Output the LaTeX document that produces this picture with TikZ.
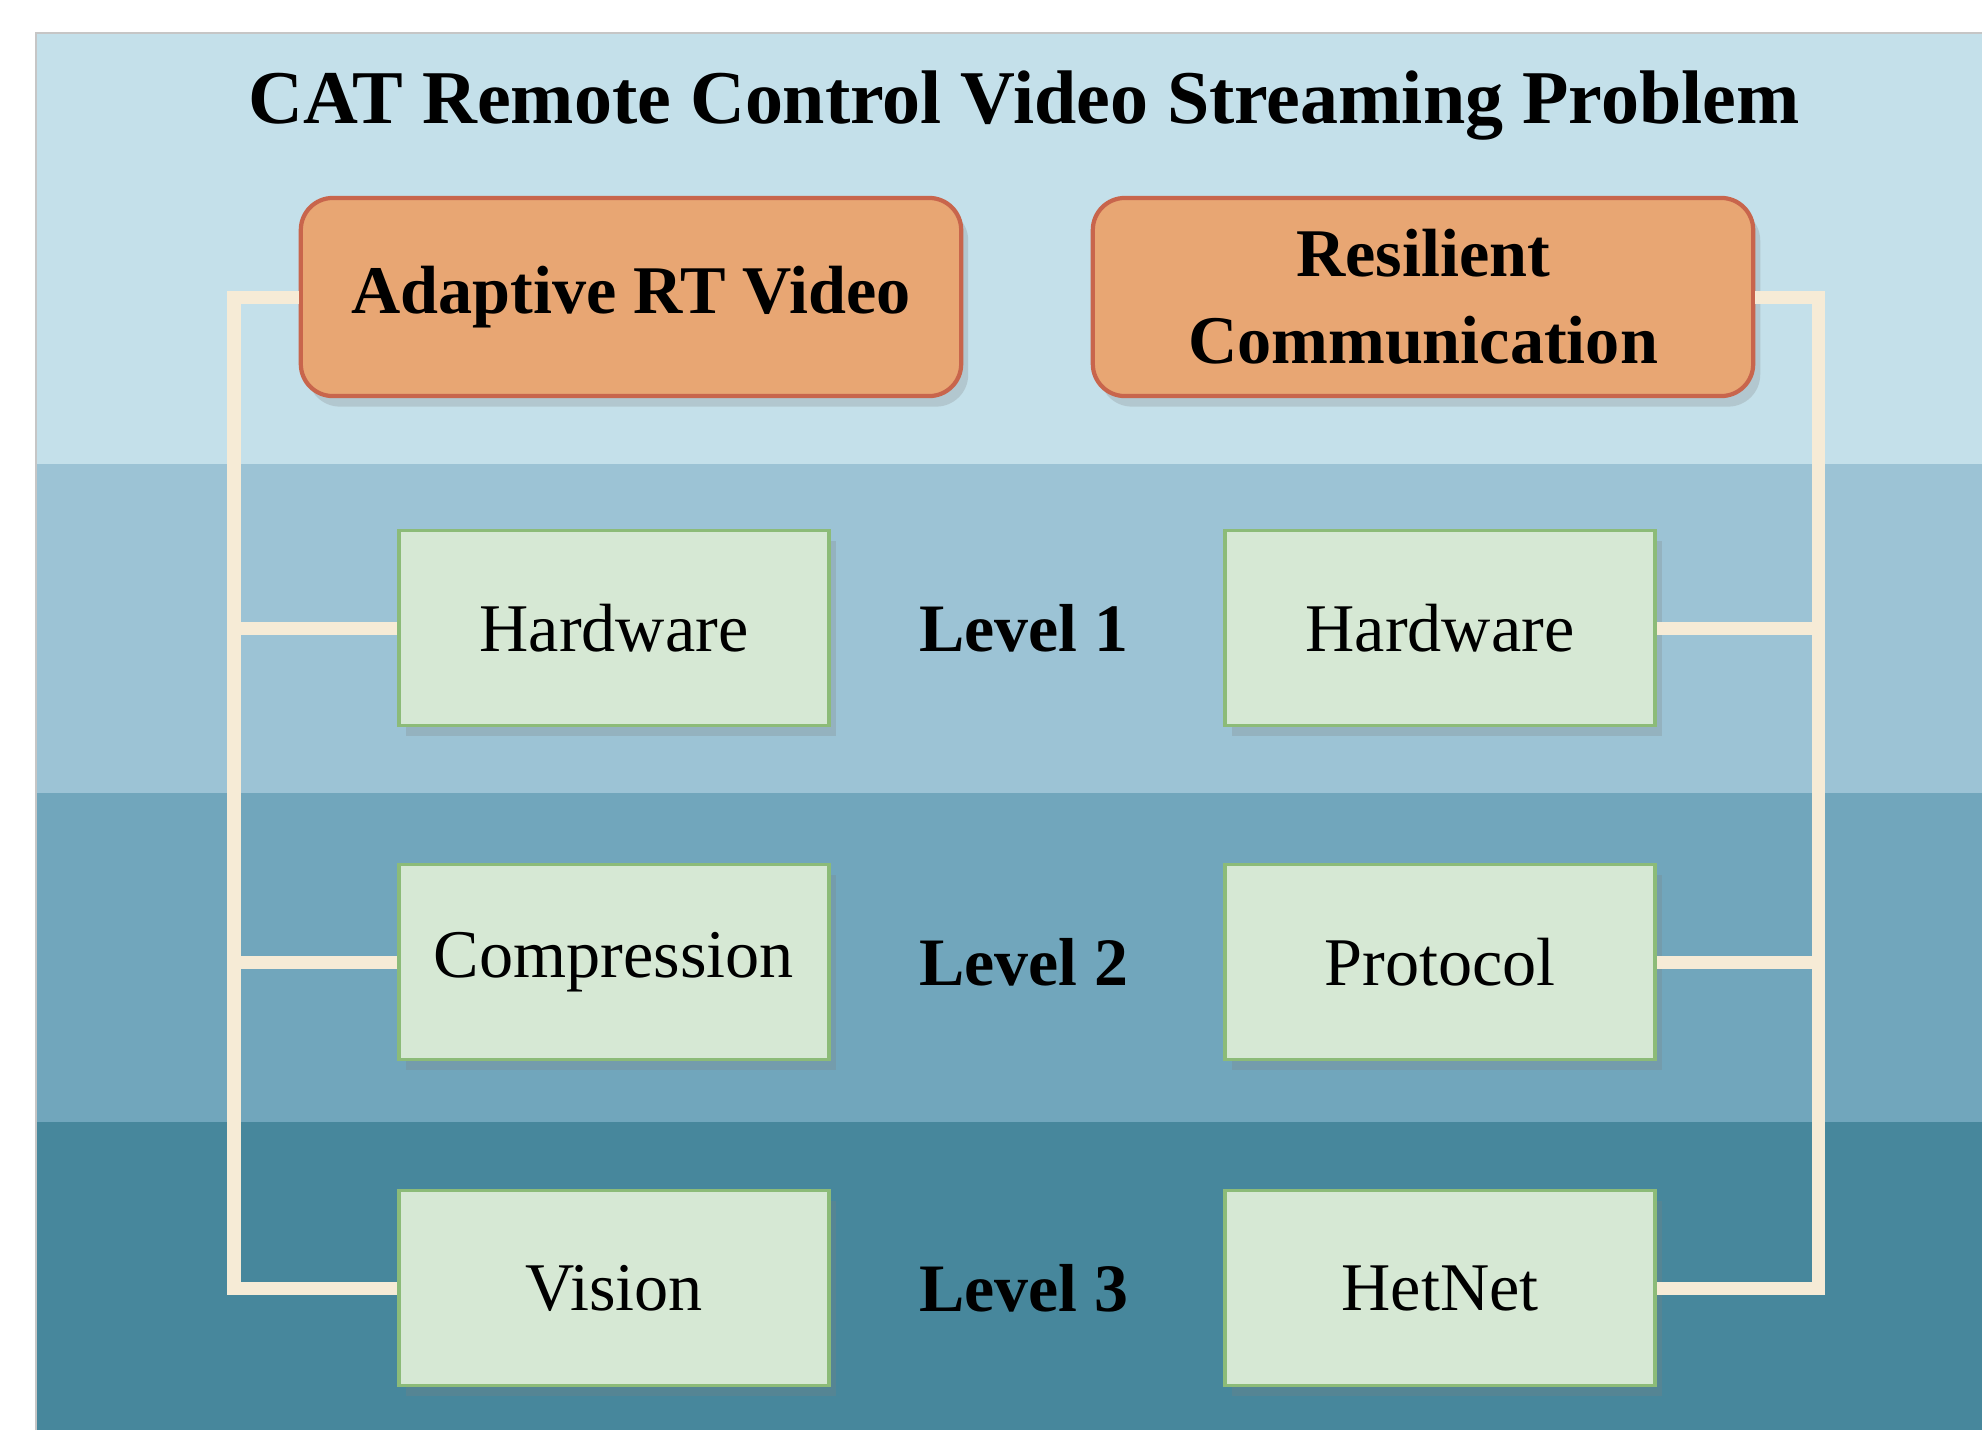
\documentclass[tikz,border=0pt]{standalone}
\usepackage{fontspec}
\setmainfont{Liberation Serif}
\usepackage{xcolor}
\usepackage{tikz}
\usetikzlibrary{shadows}

\definecolor{bandA}{HTML}{C4E0EA}
\definecolor{bandB}{HTML}{9CC3D5}
\definecolor{bandC}{HTML}{71A6BC}
\definecolor{bandD}{HTML}{47879C}
\definecolor{orangefill}{HTML}{E8A673}
\definecolor{orangeline}{HTML}{C8654C}
\definecolor{greenfill}{HTML}{D6E8D4}
\definecolor{greenline}{HTML}{8CBB78}
\definecolor{cream}{HTML}{F6EBD6}

\tikzset{
  topicbox/.style={draw=orangeline, line width=1.2pt, fill=orangefill, rounded corners=0.32cm,
    minimum width=6.6cm, minimum height=1.98cm, align=center,
    font=\fontsize{19.4}{24.8}\selectfont\bfseries,
    drop shadow={shadow xshift=2pt, shadow yshift=-3pt, opacity=.25}},
  partbox/.style={draw=greenline, line width=1pt, fill=greenfill,
    minimum width=4.3cm, minimum height=1.95cm,
    font=\fontsize{19.4}{23}\selectfont,
    drop shadow={shadow xshift=2pt, shadow yshift=-3pt, opacity=.25}},
  levellabel/.style={font=\fontsize{19.3}{23}\selectfont\bfseries},
  link/.style={draw=cream, line width=0.13cm, line join=miter}
}

\begin{document}
\begin{tikzpicture}[x=0.01cm, y=-0.01cm]
\useasboundingbox (0,0) rectangle (1982,1430);

% background bands
\fill[bandA] (36,33) rectangle (1982,464);
\fill[bandB] (36,464) rectangle (1982,793);
\fill[bandC] (36,793) rectangle (1982,1122);
\fill[bandD] (36,1122) rectangle (1982,1430);
\draw[gray!45, line width=0.6pt] (36,1430) -- (36,33) -- (1982,33);

\node[font=\fontsize{21.6}{26}\selectfont\bfseries] (title) at (1024,106) {CAT Remote Control Video Streaming Problem};

% the two topics
\node[topicbox] (video) at (631,297) {Adaptive RT Video};
\node[topicbox] (comm) at (1423,297) {Resilient\\Communication};

% levels
\node[partbox] (hwL) at (614,628) {Hardware};
\node[partbox] (compr) at (614,962) {Compression};
\node[partbox] (vision) at (614,1288) {Vision};

\node[partbox] (hwR) at (1440,628) {Hardware};
\node[partbox] (proto) at (1440,962) {Protocol};
\node[partbox] (hetnet) at (1440,1288) {HetNet};

\node[levellabel] (lev1) at (1024,628) {Level 1};
\node[levellabel] (lev2) at (1024,962) {Level 2};
\node[levellabel] (lev3) at (1024,1288) {Level 3};

% connectors
\coordinate (lspine) at (234,0);
\coordinate (rspine) at (1818,0);

\draw[link] (video.west) -- (video.west -| lspine) -- (vision.west -| lspine) -- (vision.west);
\draw[link] (hwL.west) -- (hwL.west -| lspine);
\draw[link] (compr.west) -- (compr.west -| lspine);

\draw[link] (comm.east) -- (comm.east -| rspine) -- (hetnet.east -| rspine) -- (hetnet.east);
\draw[link] (hwR.east) -- (hwR.east -| rspine);
\draw[link] (proto.east) -- (proto.east -| rspine);
\end{tikzpicture}
\end{document}
